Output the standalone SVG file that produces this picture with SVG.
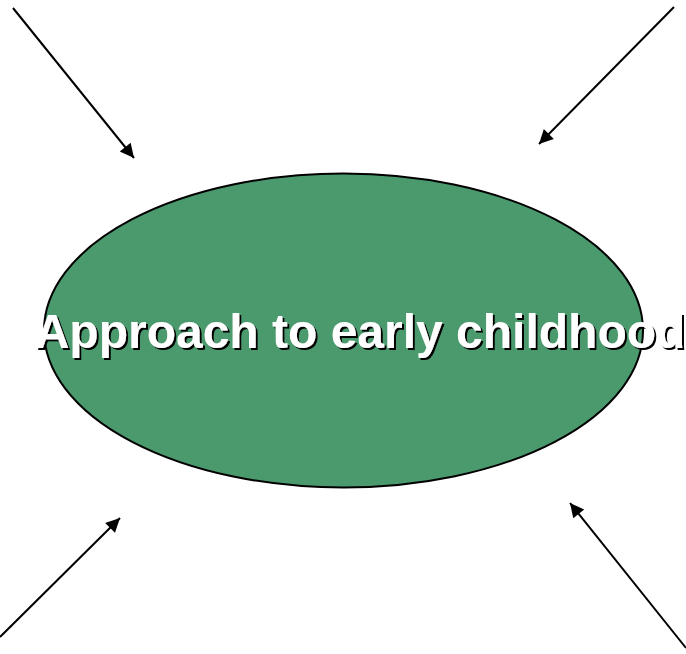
<svg xmlns="http://www.w3.org/2000/svg" width="686" height="654" viewBox="0 0 686 654">
  <defs>
    <marker id="arrow" viewBox="0 0 10 10" refX="10" refY="5" markerWidth="17" markerHeight="14" markerUnits="userSpaceOnUse" orient="auto" overflow="visible">
      <path d="M0,0 L10,5 L0,10 Z" fill="#000"/>
    </marker>
    <filter id="shadow" x="-5%" y="-20%" width="110%" height="140%">
      <feDropShadow dx="2" dy="2" stdDeviation="0" flood-color="#000" flood-opacity="1"/>
    </filter>
    <style>
      .conn { stroke: #000; stroke-width: 2; fill: none; marker-end: url(#arrow); }
      .label { font-family: "Liberation Sans", Arial, sans-serif; font-weight: bold; font-size: 48px; text-anchor: middle; fill: #fff; filter: url(#shadow); }
    </style>
  </defs>
  <rect width="686" height="654" fill="#fff"/>
  <g id="center-node">
    <ellipse cx="343.5" cy="330.5" rx="299.5" ry="157" fill="#4A9A6E" stroke="#000" stroke-width="2"/>
    <text class="label" x="360" y="348">Approach to early childhood</text>
  </g>
  <g id="connectors">
    <line class="conn" x1="13" y1="8" x2="134" y2="158"/>
    <line class="conn" x1="674" y1="7" x2="539" y2="144"/>
    <line class="conn" x1="0" y1="637" x2="120" y2="518"/>
    <line class="conn" x1="686" y1="648" x2="570" y2="503"/>
  </g>
</svg>
